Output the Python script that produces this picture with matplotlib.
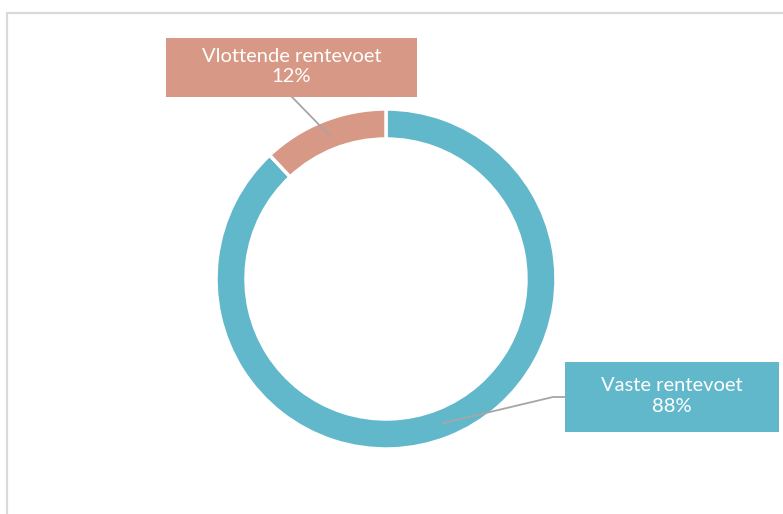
import matplotlib.pyplot as plt
import numpy as np
from matplotlib.patches import Rectangle

labels = ['Vaste rentevoet', 'Vlottende rentevoet']
shares = [88, 12]
colors = ['#62B8CB', '#D79885']

W, H = 783, 514

fig = plt.figure(figsize=(W / 100, H / 100), dpi=100)
ax = fig.add_axes([0, 0, 1, 1])

# chart area frame
ax.add_patch(Rectangle((7, -10), W + 20, H - 13 + 10, fill=False,
                       edgecolor='#D9D9D9', linewidth=1.6))

cx, cy = 386, H - 279
r_out, ring = 170, 30
wedges, _ = ax.pie(shares, colors=colors, startangle=90, counterclock=False,
                   center=(cx, cy), radius=r_out, frame=True,
                   wedgeprops=dict(width=ring, edgecolor='white', linewidth=2.5))
ax.set_xlim(0, W)
ax.set_ylim(0, H)
ax.set_aspect('equal')
ax.axis('off')

# label boxes (x0, y0 top in pixels, width, height) and leader start points
boxes = [(565, 362, 214, 70), (166, 38, 251, 59)]
leaders = [[(565, 397), (553, 397)], [(292, 97)]]

r_mid = r_out - ring / 2
for w, lab, val, col, (bx, by, bw, bh), pts in zip(wedges, labels, shares, colors, boxes, leaders):
    ang = np.deg2rad((w.theta1 + w.theta2) / 2)
    ex, ey = cx + r_mid * np.cos(ang), cy + r_mid * np.sin(ang)
    xs = [p[0] for p in pts] + [ex]
    ys = [H - p[1] for p in pts] + [ey]
    ax.plot(xs, ys, color='#A6A6A6', linewidth=1.3, zorder=3)
    ax.add_patch(Rectangle((bx, H - by - bh), bw, bh, facecolor=col,
                           edgecolor='none', zorder=4))
    ax.text(bx + bw / 2, H - by - bh / 2 + 1, f'{lab}\n{val}%', ha='center', va='center',
            color='white', fontsize=14.5, family='Lato', linespacing=1.25, zorder=5)

fig.savefig('out.png', dpi=100)
